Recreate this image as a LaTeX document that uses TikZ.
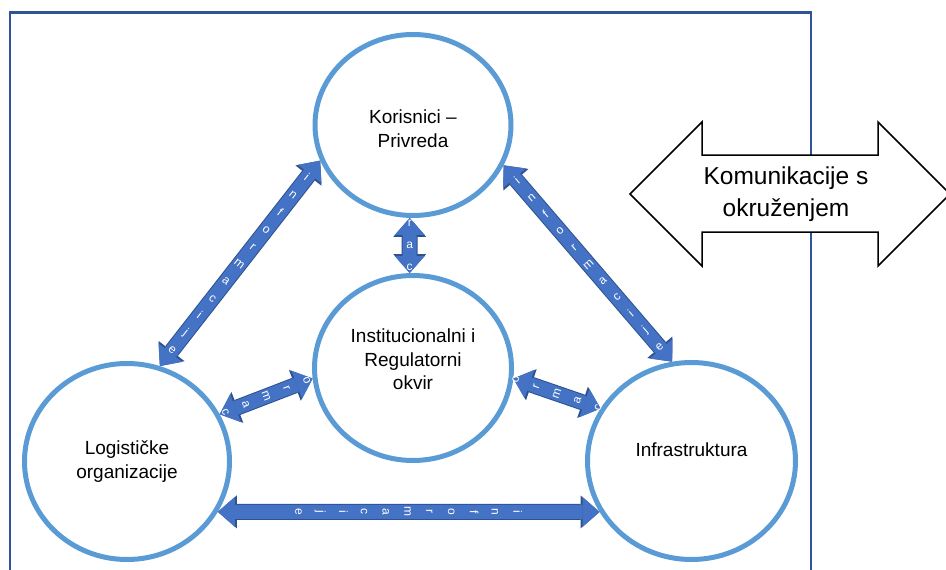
\documentclass[tikz,border=0pt]{standalone}
\usepackage{fontspec}
\setmainfont{Liberation Sans}
\usetikzlibrary{shapes.geometric,arrows.meta,positioning}

\definecolor{ringblue}{RGB}{91,155,213}
\definecolor{infofill}{RGB}{68,114,196}
\definecolor{infoedge}{RGB}{47,82,143}
\definecolor{frameblue}{RGB}{47,85,151}

\tikzset{
  bubble/.style={ellipse, draw=ringblue, line width=5pt, inner sep=0pt},
  txt/.style={align=center, font=\fontsize{19}{23.5}\selectfont},
  infoarrow/.style={draw=infofill, line width=14pt,
    {Triangle[width=30pt,length=17pt,line width=0pt]}-{Triangle[width=30pt,length=17pt,line width=0pt]},
    preaction={draw=infoedge, line width=16pt,
      {Triangle[width=33pt,length=19pt,line width=0pt]}-{Triangle[width=33pt,length=19pt,line width=0pt]}}},
  letters/.style={midway, sloped, allow upside down, rotate=-90, text=white,
    inner sep=0pt, align=center, font=\fontsize{12}{21.8}\selectfont},
}

\begin{document}
\begin{tikzpicture}[x=1pt, y=-1pt]
      \useasboundingbox (0,0) rectangle (946,570);
      % Frame
      \draw[frameblue, line width=2.5pt] (10,590) |- (811,12.5) -- (811,590);
      % Define nodes
      \node[bubble, minimum width=197pt, minimum height=185pt,
            label={[txt, yshift=8.5pt]center:Institucionalni i\\Regulatorni\\okvir}] (institut) at (413,368) {};
      \node[bubble, minimum width=196pt, minimum height=181pt, above=55pt of institut,
            label={[txt, yshift=-3.5pt]center:Korisnici –\\Privreda}] (korisnici) {};
      \node[bubble, minimum width=205pt, minimum height=196pt,
            label={[txt]center:Logističke\\organizacije}] (logist) at (127,461.5) {};
      \node[bubble, minimum width=208pt, minimum height=197pt,
            label={[txt, yshift=11pt]center:Infrastruktura}] (infra) at (691.5,461) {};
      % Connect nodes
      \draw[infoarrow] (logist.71) -- (korisnici.201) node[letters] {i\\n\\f\\o\\r\\m\\a\\c\\i\\j\\e};
      \draw[infoarrow] (infra.101) -- (korisnici.336) node[letters] {i\\n\\f\\o\\r\\m\\a\\c\\i\\j\\e};
      \draw[infoarrow] (institut.92) -- (korisnici.268) node[letters] {r\\a\\c};
      \draw[infoarrow] (logist.27) -- (institut.186) node[letters] {o\\r\\m\\a\\c};
      \draw[infoarrow] (infra.150) -- (institut.354) node[letters] {o\\r\\m\\a\\c};
      \draw[infoarrow] (logist.331) -- (infra.209) node[letters] {i\\n\\f\\o\\r\\m\\a\\c\\i\\j\\e};
      % Surroundings
      \draw[black, line width=1.5pt, fill=white, line join=miter]
        (630,194) -- (702,122) -- (702,155) -- (878,155) -- (878,122) -- (950,194)
        -- (878,266) -- (878,232) -- (702,232) -- (702,266) -- cycle;
      \node[align=center, font=\fontsize{24.5}{32}\selectfont] (okruzenje) at (786,194) {Komunikacije s\\okruženjem};
\end{tikzpicture}
\end{document}
